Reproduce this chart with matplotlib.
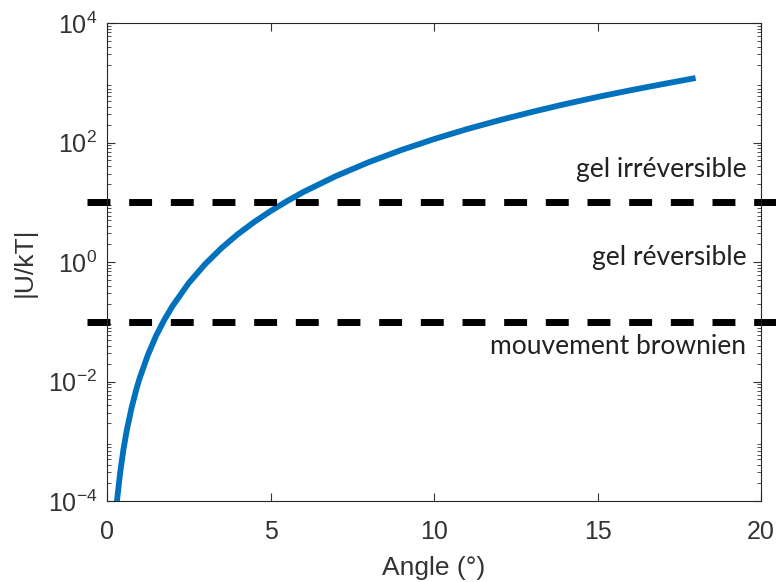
import matplotlib.pyplot as plt
from matplotlib.ticker import LogLocator, NullFormatter

# Angle (deg) vs |U/kT|
angle = [0.3, 0.4, 0.5, 0.6, 0.75, 0.9, 1.0, 1.25, 1.5, 1.75, 2.0, 2.5, 3.0,
         3.5, 4.0, 4.5, 5.0, 5.5, 6.0, 7.0, 8.0, 9.0, 10.0, 11.0, 12.0,
         13.0, 14.0, 15.0, 16.0, 17.0, 18.0]
u_kt = [9.5e-5, 2.9e-4, 7.1e-4, 1.48e-3, 3.6e-3, 7.5e-3, 0.0114, 0.0278,
        0.058, 0.107, 0.182, 0.445, 0.92, 1.71, 2.92, 4.67, 7.1, 10.4, 14.8,
        27.4, 46.7, 74.8, 114, 167, 236, 325, 438, 578, 747, 950, 1200]

thresholds = [10, 0.1]
zones = ['gel irréversible', 'gel réversible', 'mouvement brownien']
zone_y = [35, 1.17, 0.038]

plt.rcParams['font.family'] = ['Liberation Sans', 'DejaVu Sans']

fig = plt.figure(figsize=(7.76, 5.82), dpi=100)
ax = fig.add_axes([107/776, 81/582, 654/776, 478/582])

ax.plot(angle, u_kt, color='#0072BD', lw=4.2, solid_capstyle='butt')
for t in thresholds:
    ax.plot([-0.61, 21], [t, t], 'k--', lw=5, dashes=(3.3, 2.7), clip_on=False)

for lab, yy in zip(zones, zone_y):
    ax.text(19.55, yy, lab, ha='right', va='center', fontsize=19,
            family=['Lato', 'DejaVu Sans'], color='#222222')

ax.set_yscale('log')
ax.set_xlim(0, 20)
ax.set_ylim(1e-4, 1e4)
ax.set_xticks([0, 5, 10, 15, 20])
ax.set_yticks([1e-4, 1e-2, 1e0, 1e2, 1e4])
ax.yaxis.set_minor_locator(LogLocator(base=10, subs=range(2, 10), numticks=20))
ax.yaxis.set_minor_formatter(NullFormatter())
ax.tick_params(direction='in', which='both', top=True, right=True,
               labelsize=18, colors='#333333', length=6)
ax.tick_params(axis='x', pad=14)
ax.tick_params(axis='y', pad=7)
ax.tick_params(which='minor', length=3)
for s in ax.spines.values():
    s.set_color('#262626')
    s.set_linewidth(0.8)

ax.set_xlabel('Angle (°)', fontsize=19, color='#333333', labelpad=8)
ax.set_ylabel('|U/kT|', fontsize=19, color='#333333', labelpad=8)

fig.savefig('out.png', dpi=100)
